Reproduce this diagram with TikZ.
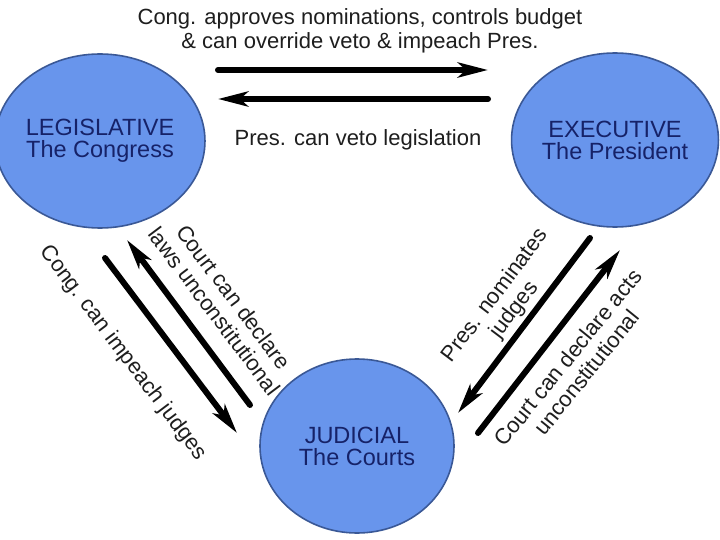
\documentclass[tikz,border=0pt]{standalone}
\usepackage{fontspec}
\setmainfont{Liberation Sans}
\usetikzlibrary{shapes.geometric,arrows.meta}
\definecolor{cfill}{RGB}{104,149,236}
\definecolor{cedge}{RGB}{58,88,150}
\definecolor{ctext}{RGB}{22,34,104}
\definecolor{ltext}{RGB}{30,30,30}
\begin{document}
\begin{tikzpicture}[x=1pt,y=-1pt,
  branch/.style={ellipse, draw=cedge, line width=1.6pt, fill=cfill,
    minimum width=194pt, minimum height=174pt, inner sep=0pt,
    text=ctext, font=\fontsize{23.5}{22}\selectfont, align=center},
  lbl/.style={text=ltext, font=\fontsize{22}{24}\selectfont, align=center, inner sep=0pt},
  conn/.style={line width=6pt, line cap=round,
    -{Stealth[length=30pt,width=15pt,inset=8pt]}}]
\useasboundingbox (0,0) rectangle (720,540);
\fill[white] (0,0) rectangle (720,540);

% branches
\node[branch] (leg) at (100,141) {LEGISLATIVE\\The Congress};
\node[branch] (exe) at (615,140) {EXECUTIVE\\The President};
\node[branch] (jud) at (357,446) {JUDICIAL\\The Courts};

% labels
\node[lbl] (ltop) at (360,31) {Cong. approves nominations, controls budget\\\& can override veto \& impeach Pres.};
\node[lbl] (lveto) at (358,140) {Pres. can veto legislation};
\node[lbl, rotate=-53] (lcourt) at (224,304) {Court can declare\\laws unconstitutional};
\node[lbl, rotate=-53] (limp) at (123,353) {Cong. can impeach judges};
\node[lbl, rotate=53] (rnom) at (505,303) {Pres. nominates\\judges};
\node[lbl, rotate=51] (racts) at (577,365) {Court can declare acts\\unconstitutional};

% arrow end points
\coordinate (t1) at (218,70);  \coordinate (t2) at (488,70);
\coordinate (b1) at (488,99);  \coordinate (b2) at (218,99);
\coordinate (la1) at (250,405); \coordinate (la2) at (127,240);
\coordinate (lb1) at (105,258); \coordinate (lb2) at (237,433);
\coordinate (rc1) at (590,238); \coordinate (rc2) at (458,413);
\coordinate (rd1) at (478,433); \coordinate (rd2) at (620,250);

\draw[conn] (t1) -- (t2);
\draw[conn] (b1) -- (b2);
\draw[conn] (la1) -- (la2);
\draw[conn] (lb1) -- (lb2);
\draw[conn] (rc1) -- (rc2);
\draw[conn] (rd1) -- (rd2);
\end{tikzpicture}
\end{document}
